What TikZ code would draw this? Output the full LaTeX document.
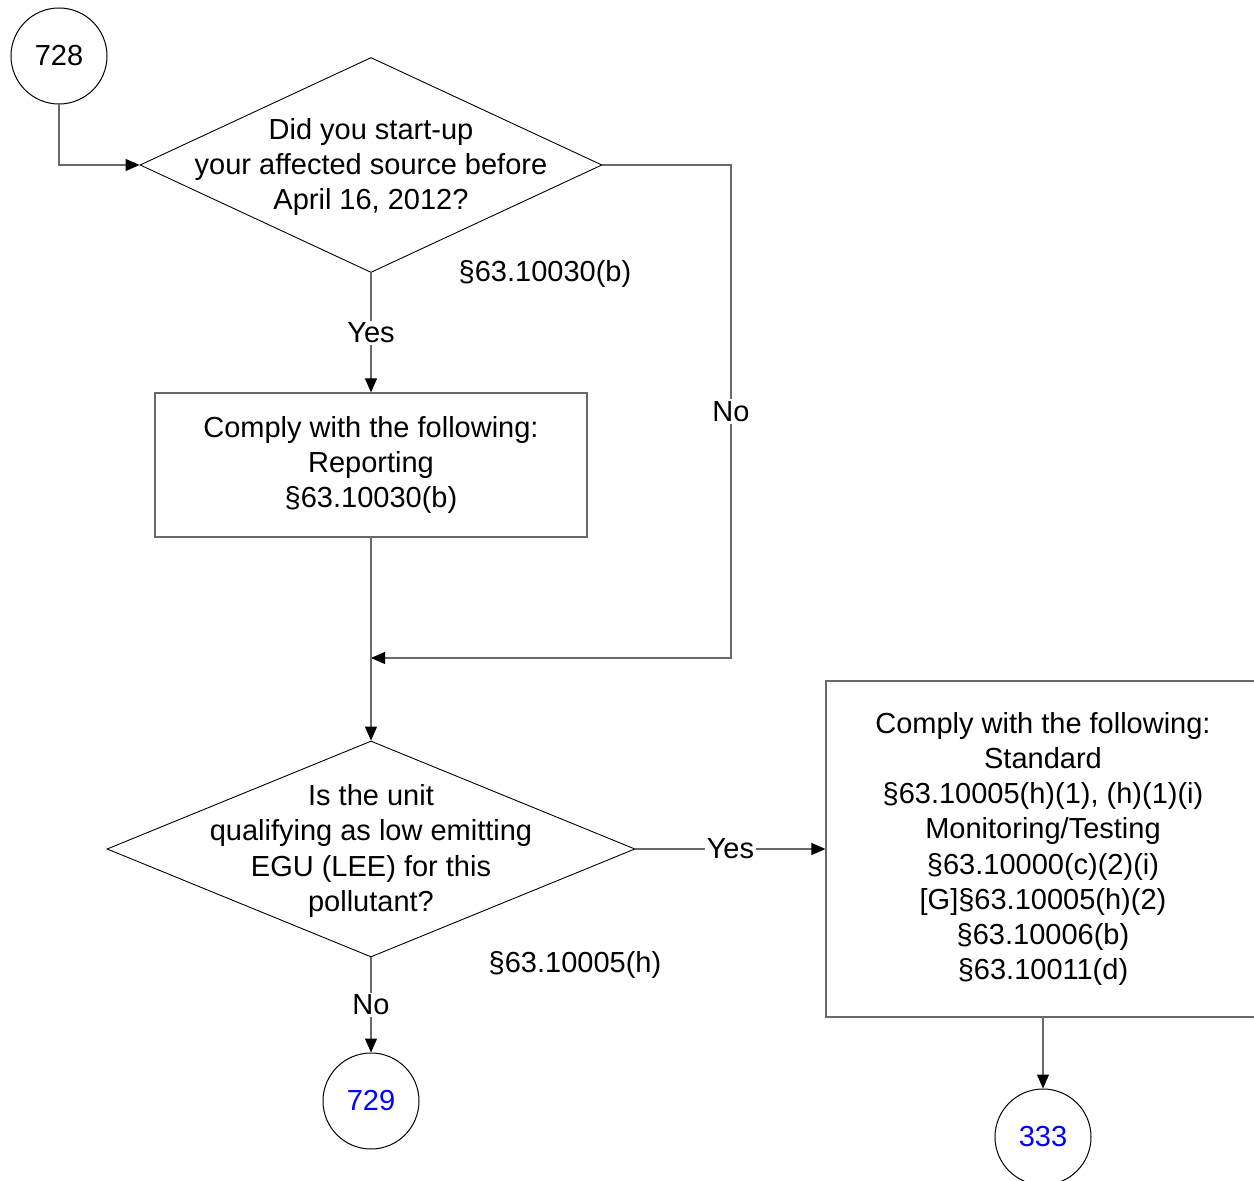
\documentclass[tikz,border=0pt]{standalone}
\usepackage{fontspec}
\setmainfont{Liberation Sans}
\usetikzlibrary{arrows.meta,shapes.geometric,positioning}
\definecolor{LineGray}{RGB}{105,105,105}
\definecolor{LinkBlue}{RGB}{0,0,255}
\tikzset{
  %% 字体
  fcfont/.style={font=\fontsize{14.5}{17.6}\selectfont},
  %% 连接圆
  conn/.style={circle,draw=black,line width=0.5pt,
               minimum size=48pt,inner sep=0pt,fcfont},
  %% 判断菱形（文字另放）
  qdia/.style={diamond,draw=black,line width=0.45pt,inner sep=0pt},
  qtext/.style={fcfont,align=center,inner sep=0pt,yshift=-1pt},
  %% 动作方框
  actbox/.style={rectangle,draw=LineGray,line width=0.6pt,
                 fcfont,align=center},
  %% 引用标注 / 是否标签
  ref/.style={fcfont,inner sep=1pt,yshift=-1.2pt},
  yn/.style={fcfont,fill=white,inner sep=1pt},
  %% 箭头
  flowarr/.style={-{Triangle[length=7pt,width=6pt,color=black]},
                  draw=LineGray,line width=0.6pt},
}
\begin{document}
\begin{tikzpicture}[x=0.5pt,y=-0.5pt]
    \useasboundingbox (0,0) rectangle (1254,1181);

    %% ── 入口与第一个判断 ─────────────────────────────
    \node[conn] (c728) at (59,56) {728};
    \node[qdia,minimum width=231pt,minimum height=107.5pt] (q1) at (371,165) {};
    \node[qtext] (q1t) at (371,165)
      {Did you start-up\\your affected source before\\April 16, 2012?};
    \node[ref] (q1ref) at (545,272) {§63.10030(b)};

    \node[actbox,minimum width=216pt,minimum height=72pt] (r1) at (371,465)
      {Comply with the following:\\Reporting\\§63.10030(b)};

    %% ── 第二个判断 ───────────────────────────────────
    \node[qdia,minimum width=264pt,minimum height=108pt] (q2) at (371,849) {};
    \node[qtext] (q2t) at (371,849)
      {Is the unit\\qualifying as low emitting\\EGU (LEE) for this\\pollutant?};
    \node[ref] (q2ref) at (575,963) {§63.10005(h)};

    \node[actbox,minimum width=217pt,minimum height=168pt] (r2) at (1043,849)
      {Comply with the following:\\Standard\\§63.10005(h)(1), (h)(1)(i)\\
       Monitoring/Testing\\§63.10000(c)(2)(i)\\{}[G]§63.10005(h)(2)\\
       §63.10006(b)\\§63.10011(d)};

    \node[conn,text=LinkBlue] (c729) at (371,1101) {729};
    \node[conn,text=LinkBlue] (c333) at (1043,1137) {333};

    %% ── 连线 ─────────────────────────────────────────
    \coordinate (noturn) at (731,658);
    \coordinate (merge) at (371,658);

    \draw[flowarr] (c728.south) |- (q1.west);
    \draw[flowarr] (q1.south) -- node[yn]{Yes} (r1.north);
    \draw[flowarr] (q1.east) -| node[yn,pos=0.75]{No} (noturn) -- (merge);
    \draw[flowarr] (r1.south) -- (q2.north);
    \draw[flowarr] (q2.east) -- node[yn]{Yes} (r2.west);
    \draw[flowarr] (q2.south) -- node[yn]{No} (c729.north);
    \draw[flowarr] (r2.south) -- (c333.north);
  \end{tikzpicture}
\end{document}
